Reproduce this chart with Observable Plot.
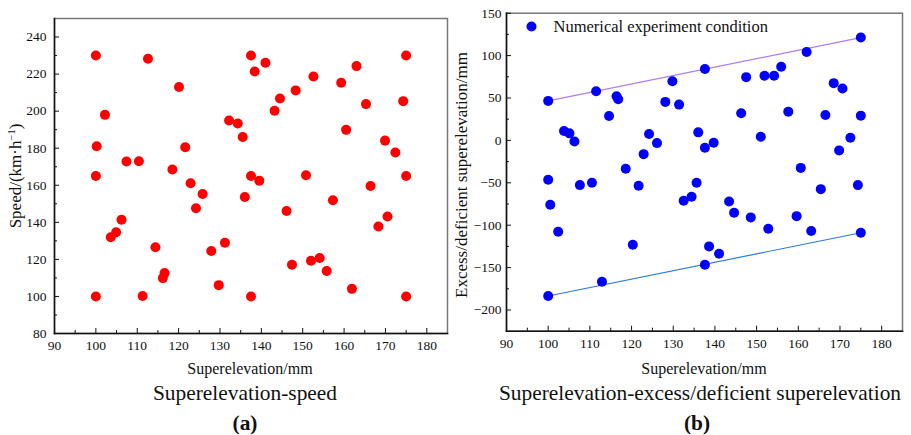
<!DOCTYPE html>
<html><head><meta charset="utf-8">
<script src="https://cdn.jsdelivr.net/npm/d3@7"></script>
<script src="https://cdn.jsdelivr.net/npm/@observablehq/plot@0.6"></script>
<style>
body{margin:0;background:#fff;font-family:"Liberation Serif","Times New Roman",serif;}
#wrap{position:relative;width:911px;height:435px;overflow:hidden;background:#fff}
#wrap svg, #wrap svg text{font-family:"Liberation Serif","Times New Roman",serif !important;}
.p{position:absolute;top:0}
.lab{position:absolute;white-space:nowrap;transform:translate(-50%,-50%);color:#111;line-height:1}
.rot{transform:translate(-50%,-50%) rotate(-90deg)}
</style></head><body><div id="wrap"></div>
<script>
// Panel (a): superelevation vs speed
const speedX = [100,112.6,137.5,138.4,141.0,175,163.0,152.6,159.3,120.1,148.3,144.5,143.2,165.3,174.3,102.2,132.2,134.3,135.5,160.5,100.2,121.6,169.9,172.4,107.4,110.4,118.5,100,137.5,150.8,175,139.5,122.9,125.8,136,166.4,157.3,124.2,146.1,170.5,168.3,106.2,104.9,103.6,114.4,131.2,127.9,147.4,152,154.1,155.8,116.6,116.2,129.7,161.9,100,111.3,137.5,175];
const speedY = [230,228.3,230,221.4,226.1,230,224.3,218.7,215.3,213,211.2,206.8,200.2,203.8,205.4,198,195,193.3,186,189.9,181.1,180.5,184.1,177.7,172.8,173,168.5,165,165,165.4,165,162.5,161.1,155.3,153.7,159.6,151.9,147.6,146.1,143.1,137.7,141.4,134.6,131.9,126.5,129,124.5,117.1,119.3,120.7,113.7,112.6,109.9,106.1,104.1,100,100.2,100,100];
// Panel (b): superelevation vs excess/deficient superelevation
const excessX = [100,111.5,116.4,116.8,114.6,129.8,128.1,131.4,137.6,147.5,151.9,154.2,155.9,162,175,146.3,157.6,168.5,170.6,166.5,175,103.8,105.1,106.3,124.2,126.1,122.9,118.6,136,137.6,139.7,151,160.6,169.8,172.5,100,100.5,102.4,107.6,110.5,121.7,120.3,132.5,134.4,135.6,143.4,144.6,148.6,152.8,159.6,163.1,165.4,174.3,175,138.6,141,137.6,112.9,100];
const excessY = [46.6,58,52.1,48.5,28.8,69.8,45.4,42.2,84.1,74.6,76.2,76.2,86.8,104.2,121.3,32,33.9,67.5,61.2,30,29.2,11,8.3,-1.2,7.5,-3.2,-16.2,-33.5,9.5,-8.7,-2.8,4.3,-32.4,-11.8,3.2,-46.5,-75.9,-107.7,-52.7,-50,-53.5,-123,-71.2,-66.5,-50,-72,-85.3,-90.8,-104.2,-89.3,-106.9,-57.5,-52.7,-108.9,-125,-133.6,-146.6,-166.6,-183.5];
const upperX = [100,175], upperY = [46.6,121.3];
const lowerX = [100,175], lowerY = [-183.5,-108.9];

const xMajor = [90,100,110,120,130,140,150,160,170,180];
const xMinor = [95,105,115,125,135,145,155,165,175];
const speedMajor = [80,100,120,140,160,180,200,220,240];
const speedMinor = [90,110,130,150,170,190,210,230];
const excessMajor = [-200,-150,-100,-50,0,50,100,150];
const excessMinor = [-175,-125,-75,-25,25,75,125];

const legendLabel = "Numerical experiment condition";
const texts = {
  xa: "Superelevation/mm", ya: "Speed/(km·h<sup style='font-size:0.62em;vertical-align:0.55em'>−1</sup>)",
  ta: "Superelevation-speed", la: "(a)",
  xb: "Superelevation/mm", yb: "Excess/deficient superelevation/mm",
  tb: "Superelevation-excess/deficient superelevation", lb: "(b)"
};

const ink = "#111";
function axes(yMajor, yMinor, yPad) {
  return [
    Plot.frame({stroke: "#777", strokeWidth: 1.5}),
    Plot.frame({anchor: "bottom", stroke: ink, strokeWidth: 1.5}),
    Plot.frame({anchor: "left", stroke: ink, strokeWidth: 1.5}),
    Plot.axisX(xMajor, {tickSize: 5, dy: -5, text: null, label: null, stroke: ink}),
    Plot.axisX(xMinor, {tickSize: 3, dy: -3, text: null, label: null, stroke: ink}),
    Plot.axisX(xMajor, {tickSize: 0, tickPadding: 7, label: null, fill: ink, fontSize: 13.5}),
    Plot.axisY(yMajor, {tickSize: 5, dx: 5, text: null, label: null, stroke: ink}),
    Plot.axisY(yMinor, {tickSize: 3, dx: 3, text: null, label: null, stroke: ink}),
    Plot.axisY(yMajor, {tickSize: 0, tickPadding: yPad, label: null, fill: ink, fontSize: 13.5})
  ];
}

const style = {fontFamily: "Liberation Serif, Times New Roman, serif", fontSize: "13.5px", background: "transparent", overflow: "visible", color: ink};

const speedData = speedX.map((x, i) => ({x, y: speedY[i]}));
const excessData = excessX.map((x, i) => ({x, y: excessY[i]}));
const upperData = upperX.map((x, i) => ({x, y: upperY[i]}));
const lowerData = lowerX.map((x, i) => ({x, y: lowerY[i]}));

const pa = Plot.plot({
  width: 455, height: 365,
  marginLeft: 54, marginRight: 8, marginTop: 18, marginBottom: 32,
  style,
  x: {domain: [90, 185]},
  y: {domain: [80, 250]},
  marks: [
    ...axes(speedMajor, speedMinor, 8),
    Plot.dot(speedData, {x: "x", y: "y", r: 5, fill: "#ff0000", stroke: "none"})
  ]
});
pa.classList.add("p"); pa.style.left = "0px";

const pb = Plot.plot({
  width: 456, height: 365,
  marginLeft: 51, marginRight: 9, marginTop: 12.7, marginBottom: 34.3,
  style,
  x: {domain: [90, 185]},
  y: {domain: [-225, 150]},
  marks: [
    ...axes(excessMajor, excessMinor, 5),
    Plot.line(upperData, {x: "x", y: "y", stroke: "#b07cee", strokeWidth: 1.2}),
    Plot.line(lowerData, {x: "x", y: "y", stroke: "#2a7ae0", strokeWidth: 1.2}),
    Plot.dot(excessData, {x: "x", y: "y", r: 5, fill: "#0000ff", stroke: "none"}),
    Plot.dot([legendLabel], {frameAnchor: "top-left", dx: 25, dy: 13.3, r: 5, fill: "#0000ff", stroke: "none"}),
    Plot.text([legendLabel], {frameAnchor: "top-left", dx: 47, dy: 13.3, text: d => d, textAnchor: "start", lineAnchor: "middle", fontSize: 16.5, fill: ink})
  ]
});
pb.classList.add("p"); pb.style.left = "455px";

const wrap = document.getElementById("wrap");
wrap.appendChild(pa); wrap.appendChild(pb);

function lab(html, x, y, size, extra) {
  const d = document.createElement("div");
  d.className = "lab" + (extra && extra.rot ? " rot" : "");
  d.innerHTML = html;
  d.style.left = x + "px"; d.style.top = y + "px"; d.style.fontSize = size + "px";
  if (extra && extra.bold) d.style.fontWeight = "bold";
  wrap.appendChild(d);
}
lab(texts.xa, 250, 369, 16);
lab(texts.xb, 704, 369, 16);
lab(texts.ta, 245, 394, 21.4);
lab(texts.tb, 700, 394, 21.4);
lab(texts.la, 245, 424, 21.4, {bold: true});
lab(texts.lb, 697, 424, 21.4, {bold: true});
lab(texts.ya, 15, 176, 17, {rot: true});
lab(texts.yb, 461, 175, 17, {rot: true});
</script></body></html>
